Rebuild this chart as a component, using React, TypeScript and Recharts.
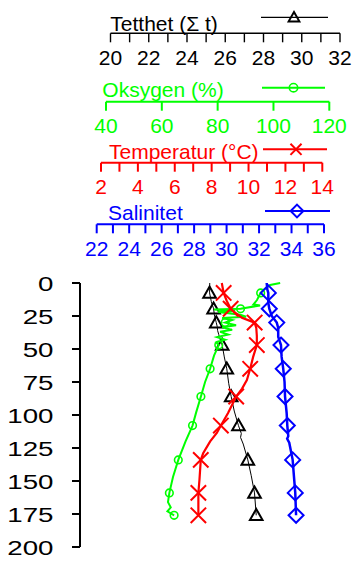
import React from 'react';
import { LineChart, Line, XAxis, YAxis } from 'recharts';

const FONT = '"Liberation Sans", Arial, Helvetica, sans-serif';

// ---------- data ----------
const depthTicks = [0, 25, 50, 75, 100, 125, 150, 175, 200];
const sampleDepths = [7.5, 19.5, 30, 47, 65, 86, 108, 134, 159, 176];

// Tetthet (sigma-t)
const densityTicks = [20, 21, 22, 23, 24, 25, 26, 27, 28, 29, 30, 31, 32];
const densityDepths = [0, 7.5, 14, 19.5, 24, 30, 33, 36, 39, 41, 47, 56, 65, 76, 86, 97, 108, 114, 117, 122, 134, 146, 159, 176];
const densityValues = [25.19, 25.18, 25.27, 25.39, 25.43, 25.53, 25.58, 25.6, 25.66, 25.69, 25.84, 25.95, 26.08, 26.18, 26.31, 26.47, 26.69, 26.84, 26.8, 26.94, 27.18, 27.36, 27.53, 27.62];
const densitySamples = [25.18, 25.39, 25.53, 25.84, 26.08, 26.31, 26.69, 27.18, 27.53, 27.62];

// Oksygen (%)
const oxygenTicks = [40, 60, 80, 100, 120];
const oxygenDepths = [0, 1.5, 5.3, 7.5, 12.9, 16.3, 17, 19.5, 20.1, 21.2, 22, 24, 25.5, 26.5, 28, 30, 32, 33.5, 35.5, 37, 39, 41, 43, 45, 47, 55, 65, 75, 86, 98, 108, 120, 134, 147, 159, 166, 170, 173, 176];
const oxygenValues = [102.4, 98.8, 96.4, 95.4, 94.1, 92.8, 95.2, 88.2, 78.7, 86.3, 80.2, 88.1, 90.2, 81.6, 85.2, 82.7, 86.6, 81.6, 85.2, 80.9, 83.8, 79.8, 82.7, 79.5, 80.4, 78.7, 77.3, 75.5, 74.0, 72.3, 71.0, 68.5, 65.9, 64.0, 62.7, 62.2, 63.2, 62.0, 64.4];
const oxygenSamples = [95.4, 88.2, 82.7, 80.4, 77.3, 74.0, 71.0, 65.9, 62.7, 64.4];

// Temperatur (°C)
const tempTicks = [2, 3, 4, 5, 6, 7, 8, 9, 10, 11, 12, 13, 14];
const tempDepths = [0, 7.5, 13.6, 19.5, 22.5, 26.3, 28.5, 30, 34, 40, 47, 56, 65, 73.5, 80, 86, 98.5, 108, 113.6, 120, 129, 134, 149, 159, 176];
const tempValues = [8.55, 8.65, 8.82, 9.03, 9.27, 9.64, 10.05, 10.33, 10.42, 10.45, 10.45, 10.25, 10.09, 9.91, 9.65, 9.33, 8.89, 8.5, 8.28, 7.92, 7.54, 7.41, 7.34, 7.28, 7.28];
const tempSamples = [8.65, 9.03, 10.33, 10.45, 10.09, 9.33, 8.5, 7.41, 7.28, 7.28];

// Salinitet
const salTicks = [22, 23, 24, 25, 26, 27, 28, 29, 30, 31, 32, 33, 34, 35, 36];
const salDepths = [0, 5, 7.5, 15, 19.5, 25, 30, 34, 40.7, 47, 56, 65, 75, 86, 98.5, 108, 116, 118, 121, 134, 146.7, 159, 176];
const salValues = [32.47, 32.51, 32.57, 32.57, 32.63, 32.78, 33.09, 33.18, 33.18, 33.35, 33.39, 33.49, 33.57, 33.6, 33.7, 33.74, 33.8, 33.73, 33.86, 34.07, 34.15, 34.23, 34.28];
const salSamples = [32.57, 32.63, 33.09, 33.35, 33.49, 33.6, 33.74, 34.07, 34.23, 34.28];

// ---------- layout ----------
const W = 352;
const H = 561;
const Y0 = 283; // pixel row of depth 0
const Y200 = 547; // pixel row of depth 200

const toPoints = (depths: number[], values: number[]) =>
  depths.map((d, i) => ({ depth: d, value: values[i] }));

type Kind = 'triangle' | 'circle' | 'cross' | 'diamond';

function Marker({ kind, cx, cy, color, s }: { kind: Kind; cx: number; cy: number; color: string; s: number }) {
  if (kind === 'triangle') {
    return (
      <path
        d={`M${cx},${cy - 6.3 * s} L${cx + 6.3 * s},${cy + 4.8 * s} L${cx - 6.3 * s},${cy + 4.8 * s} Z`}
        fill="none"
        stroke={color}
        strokeWidth={2}
      />
    );
  }
  if (kind === 'circle') {
    return <circle cx={cx} cy={cy} r={3.8 * s} fill="none" stroke={color} strokeWidth={1.6} />;
  }
  if (kind === 'cross') {
    const h = 7.7 * s;
    return (
      <path
        d={`M${cx - h},${cy - h} L${cx + h},${cy + h} M${cx + h},${cy - h} L${cx - h},${cy + h}`}
        fill="none"
        stroke={color}
        strokeWidth={2}
      />
    );
  }
  const h = 7.5 * s;
  return (
    <path
      d={`M${cx},${cy - h} L${cx + h},${cy} L${cx},${cy + h} L${cx - h},${cy} Z`}
      fill="none"
      stroke={color}
      strokeWidth={2}
    />
  );
}

const makeDot = (kind: Kind, color: string) => (props: any) => {
  const { cx, cy, index } = props;
  if (cx == null || cy == null) return <g key={`e${index}`} />;
  return <Marker key={`m${index}`} kind={kind} cx={cx} cy={cy} color={color} s={1} />;
};

type Panel = {
  title: string;
  color: string;
  lineY: number;
  left: number;
  right: number;
  ticks: number[];
  labelStep: number;
  depths: number[];
  values: number[];
  samples: number[];
  kind: Kind;
  lineWidth: number;
  axisWidth: number;
  titleX: number;
  titleY: number;
  legendY: number;
  legendX1: number;
  legendX2: number;
  legendMarkX: number;
  legendScale: number;
};

const panels: Panel[] = [
  {
    title: 'Tetthet (\u03A3 t)', color: '#000000', lineY: 33.3, left: 110.5, right: 340,
    ticks: densityTicks, labelStep: 2, depths: densityDepths, values: densityValues, samples: densitySamples,
    kind: 'triangle', lineWidth: 1, axisWidth: 1.4, titleX: 110.3, titleY: 31,
    legendY: 17.3, legendX1: 261, legendX2: 328, legendMarkX: 294, legendScale: 0.85,
  },
  {
    title: 'Oksygen (%)', color: '#00ff00', lineY: 101.7, left: 106, right: 329.3,
    ticks: oxygenTicks, labelStep: 20, depths: oxygenDepths, values: oxygenValues, samples: oxygenSamples,
    kind: 'circle', lineWidth: 2, axisWidth: 2, titleX: 102.3, titleY: 96.7,
    legendY: 87.7, legendX1: 262, legendX2: 325, legendMarkX: 293.5, legendScale: 1.1,
  },
  {
    title: 'Temperatur (\u00B0C)', color: '#ff0000', lineY: 162.7, left: 101, right: 322.3,
    ticks: tempTicks, labelStep: 2, depths: tempDepths, values: tempValues, samples: tempSamples,
    kind: 'cross', lineWidth: 2.2, axisWidth: 2, titleX: 109, titleY: 159,
    legendY: 149.3, legendX1: 263, legendX2: 327, legendMarkX: 296, legendScale: 0.72,
  },
  {
    title: 'Salinitet', color: '#0000ff', lineY: 224.3, left: 96.7, right: 324,
    ticks: salTicks, labelStep: 2, depths: salDepths, values: salValues, samples: salSamples,
    kind: 'diamond', lineWidth: 2.5, axisWidth: 2, titleX: 108, titleY: 219.5,
    legendY: 211, legendX1: 265, legendX2: 330, legendMarkX: 297, legendScale: 0.85,
  },
];

const depthAtPixel = (py: number) => ((py - Y0) / (Y200 - Y0)) * 200;

function DepthTick(props: any) {
  const { x, y, payload } = props;
  return (
    <text
      transform={`translate(${x},${y}) scale(1.32,1)`}
      x={0}
      y={0}
      dy="0.36em"
      textAnchor="end"
      fontSize={21}
      fontFamily={FONT}
      fill="#000"
    >
      {payload.value}
    </text>
  );
}

function PanelChart({ p }: { p: Panel }) {
  const profile = toPoints(p.depths, p.values);
  const samples = toPoints(sampleDepths, p.samples);
  const dTop = depthAtPixel(p.lineY);
  const first = p.ticks[0];
  return (
    <div style={{ position: 'absolute', left: 0, top: 0 }}>
      <LineChart
        width={W}
        height={H}
        layout="vertical"
        margin={{ top: p.lineY, bottom: H - Y200, left: p.left, right: W - p.right }}
      >
        <XAxis
          type="number"
          orientation="top"
          mirror
          domain={[p.ticks[0], p.ticks[p.ticks.length - 1]]}
          ticks={p.ticks}
          interval={0}
          allowDataOverflow
          tickFormatter={(v: number) => (Math.round(v - first) % p.labelStep === 0 ? String(v) : '')}
          tickSize={9}
          tickMargin={7.5}
          axisLine={{ stroke: p.color, strokeWidth: p.axisWidth }}
          tickLine={{ stroke: p.color, strokeWidth: p.axisWidth }}
          tick={{ fill: p.color, fontSize: 21, fontFamily: FONT }}
        />
        <YAxis type="number" dataKey="depth" hide domain={[dTop, 200]} allowDataOverflow />
        <Line
          data={profile}
          dataKey="value"
          stroke={p.color}
          strokeWidth={p.lineWidth}
          dot={false}
          activeDot={false}
          isAnimationActive={false}
        />
        <Line
          data={samples}
          dataKey="value"
          stroke="none"
          dot={makeDot(p.kind, p.color)}
          activeDot={false}
          isAnimationActive={false}
        />
      </LineChart>
    </div>
  );
}

function DepthAxisChart() {
  const data = toPoints(densityDepths, densityValues);
  return (
    <div style={{ position: 'absolute', left: 0, top: 0 }}>
      <LineChart
        width={W}
        height={H}
        layout="vertical"
        data={data}
        margin={{ top: Y0, bottom: H - Y200, left: 20, right: 20 }}
      >
        <XAxis type="number" hide domain={[20, 32]} />
        <YAxis
          type="number"
          dataKey="depth"
          width={60}
          domain={[0, 200]}
          ticks={depthTicks}
          interval={0}
          allowDataOverflow
          tickSize={8}
          tickMargin={18.5}
          axisLine={{ stroke: '#000', strokeWidth: 2 }}
          tickLine={{ stroke: '#000', strokeWidth: 2 }}
          tick={<DepthTick />}
        />
      </LineChart>
    </div>
  );
}

function Legends() {
  return (
    <svg width={W} height={H} style={{ position: 'absolute', left: 0, top: 0, pointerEvents: 'none' }}>
      {panels.map((p) => (
        <g key={p.title}>
          <text x={p.titleX} y={p.titleY} fontSize={21} fontFamily={FONT} fill={p.color}>
            {p.title}
          </text>
          <line
            x1={p.legendX1}
            x2={p.legendX2}
            y1={p.legendY}
            y2={p.legendY}
            stroke={p.color}
            strokeWidth={p.kind === 'triangle' ? 1.3 : 2}
          />
          <Marker kind={p.kind} cx={p.legendMarkX} cy={p.legendY} color={p.color} s={p.legendScale} />
        </g>
      ))}
    </svg>
  );
}

export default function App() {
  return (
    <div style={{ position: 'absolute', left: 0, top: 0, width: W, height: H, background: '#fff' }}>
      <DepthAxisChart />
      <PanelChart p={panels[0]} />
      <PanelChart p={panels[1]} />
      <PanelChart p={panels[2]} />
      <PanelChart p={panels[3]} />
      <Legends />
    </div>
  );
}
